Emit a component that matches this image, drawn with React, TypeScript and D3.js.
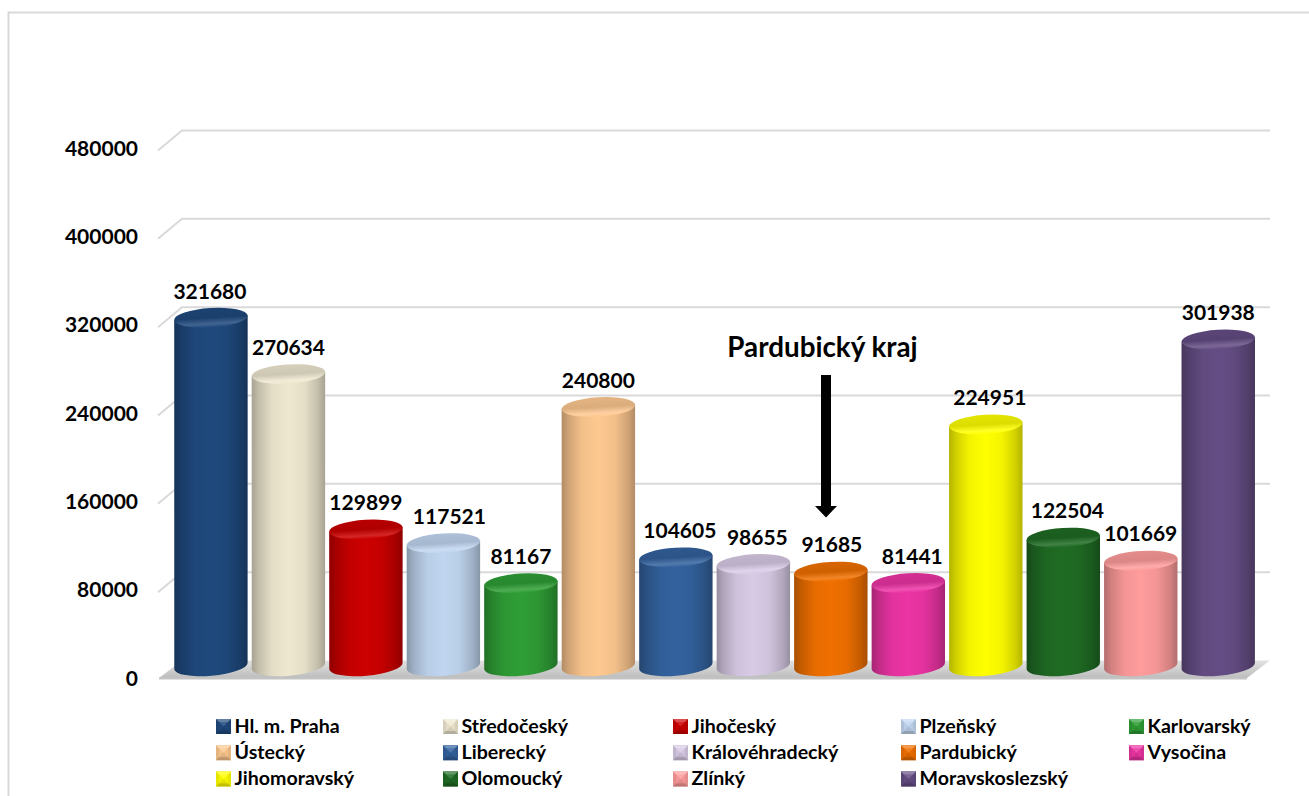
import React from "react";
import * as d3 from "d3";

const regions = ["Hl. m. Praha","Středočeský","Jihočeský","Plzeňský","Karlovarský","Ústecký","Liberecký","Královéhradecký","Pardubický","Vysočina","Jihomoravský","Olomoucký","Zlínký","Moravskoslezský"];
const population = [321680,270634,129899,117521,81167,240800,104605,98655,91685,81441,224951,122504,101669,301938];
const colors = ["#1f497d","#eee8d0","#cc0000","#c0d6f0","#2f9e35","#fec890","#33629e","#d8cbe6","#f07000","#ec34a4","#ffff00","#1f6b24","#ff9c9c","#644d84"];
const ticks = [0,80000,160000,240000,320000,400000,480000];
const labelNudge = [-1,0,0,6,0,0,4,4,1,4,4,4,0,0];

const W = 1309, H = 796;
const FONT = "Lato, Carlito, sans-serif";
const RX = 36.8, RY = 9.7, TILT_TOP = 3.5, TILT_BASE = 5;
const BASE = 666;
const yScale = d3.scaleLinear().domain([0,480000]).range([660.5,130.5]);
const xScale = d3.scaleBand<number>().domain(d3.range(regions.length)).range([172.2,1257]).padding(0);
const cxOf = (i:number) => xScale(i)! + xScale.bandwidth()/2;

const offset = (deg:number) => [RX*Math.cos(deg*Math.PI/180), RX*Math.sin(deg*Math.PI/180)];
const [topDx, topDy] = offset(TILT_TOP);
const [baseDx, baseDy] = offset(TILT_BASE);
const dark = (c:string,k:number) => d3.color(c)!.darker(k).formatHex();
const light = (c:string,k:number) => d3.interpolateRgb(c,"#ffffff")(k);

export default function App() {
  return (
    <svg width={W} height={H} style={{position:"absolute",left:0,top:0,background:"#fff"}}>
      <defs>
        {colors.map((c,i)=>(
          <React.Fragment key={i}>
            <linearGradient id={`side${i}`} x1="0" x2="1" y1="0" y2="0">
              <stop offset="0" stopColor={dark(c,1)}/>
              <stop offset="0.1" stopColor={dark(c,0.55)}/>
              <stop offset="0.28" stopColor={dark(c,0.12)}/>
              <stop offset="0.5" stopColor={c}/>
              <stop offset="0.72" stopColor={dark(c,0.12)}/>
              <stop offset="0.9" stopColor={dark(c,0.55)}/>
              <stop offset="1" stopColor={dark(c,1)}/>
            </linearGradient>
            <linearGradient id={`top${i}`} x1="0" x2="0" y1="0" y2="1">
              <stop offset="0" stopColor={dark(c,0.3)}/>
              <stop offset="0.5" stopColor={dark(c,0.42)}/>
              <stop offset="0.82" stopColor={light(c,0.15)}/>
              <stop offset="1" stopColor={c}/>
            </linearGradient>
          </React.Fragment>
        ))}
        <linearGradient id="floor" x1="0" x2="0" y1="0" y2="1">
          <stop offset="0" stopColor="#e2e2e2"/>
          <stop offset="1" stopColor="#bdbdbd"/>
        </linearGradient>
      </defs>

      <path d={`M8.5 796V12.5H${W}`} fill="none" stroke="#d9d9d9" strokeWidth={2}/>

      {ticks.slice(1).map(t=>{
        const y = yScale(t);
        return <path key={t} d={`M158 ${y+20}L182 ${y}H1270`} fill="none" stroke="#d9d9d9" strokeWidth={2}/>;
      })}
      <path d={`M182 ${yScale(0)}H1270L1247 678H159Z`} fill="url(#floor)"/>
      <rect x={159} y={677.5} width={1088} height={2} fill="#c4c4c4"/>

      {ticks.map(t=>(
        <text key={t} x={138} y={yScale(t)+17.5} dy="0.36em" textAnchor="end" fontFamily={FONT} fontWeight={700} fontSize={21} fill="#000">{t}</text>
      ))}

      {population.map((v,i)=>{
        const cx = cxOf(i);
        const top = yScale(v)+12.4;
        return (
          <g key={i}>
            <path d={`M${cx-topDx} ${top+topDy}L${cx-baseDx} ${BASE+baseDy}A${RX} ${RY} ${-TILT_BASE} 0 0 ${cx+baseDx} ${BASE-baseDy}L${cx+topDx} ${top-topDy}Z`} fill={`url(#side${i})`}/>
            <ellipse cx={cx} cy={top} rx={RX} ry={RY} transform={`rotate(${-TILT_TOP} ${cx} ${top})`} fill={`url(#top${i})`}/>
            <text x={cx+labelNudge[i]} y={top-RY-9.5} textAnchor="middle" fontFamily={FONT} fontWeight={700} fontSize={21} fill="#000">{v}</text>
          </g>
        );
      })}

      <text x={822.5} y={357} textAnchor="middle" fontFamily={FONT} fontWeight={700} fontSize={27.8} fill="#000">Pardubický kraj</text>
      <path d="M821 375H831V506H837L826 517.5L815 506H821Z" fill="#000"/>

      {regions.map((r,i)=>{
        const col = i%5, row = Math.floor(i/5);
        const x = [216,443,673,901,1129][col];
        const y = 719+row*26.2;
        const s = 15, b = 3, c = colors[i];
        return (
          <g key={r}>
            <rect x={x} y={y} width={s} height={s} fill={dark(c,0.3)}/>
            <path d={`M${x} ${y}H${x+s}L${x+s/2} ${y+s/2}Z`} fill={light(c,0.3)}/>
            <path d={`M${x} ${y+s}H${x+s}L${x+s/2} ${y+s/2}Z`} fill={dark(c,0.8)}/>
            <rect x={x+b} y={y+b} width={s-2*b} height={s-2*b} fill={c} opacity={0.55}/>
            <text x={x+18.5} y={y+7} dy="0.36em" fontFamily={FONT} fontWeight={700} fontSize={19.6} fill="#000">{r}</text>
          </g>
        );
      })}
    </svg>
  );
}
